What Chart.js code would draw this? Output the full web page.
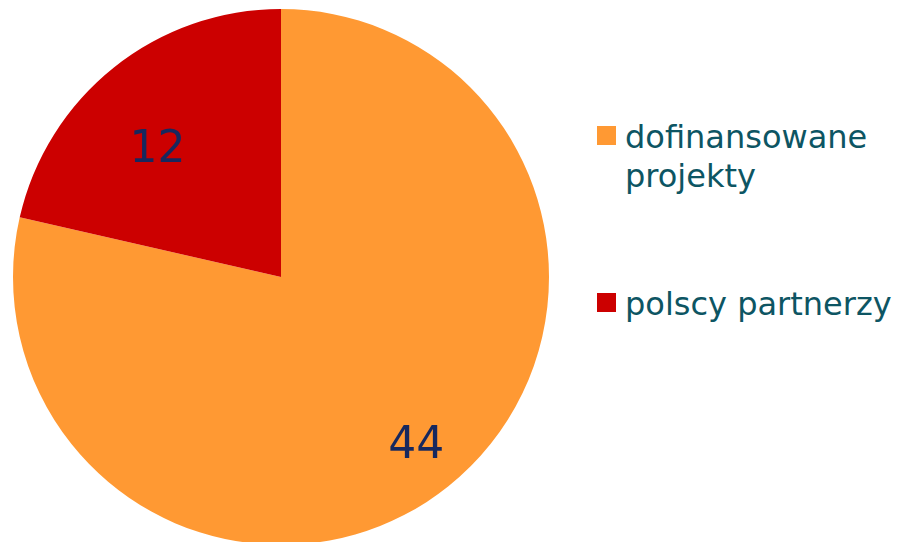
<!DOCTYPE html>
<html>
<head>
<meta charset="utf-8">
<script src="https://cdn.jsdelivr.net/npm/chart.js@4/dist/chart.umd.min.js"></script>
<style>
  html, body { margin: 0; padding: 0; background: #fff; overflow: hidden; }
  body { width: 906px; height: 542px; position: relative; font-family: "DejaVu Sans", sans-serif; }
  #pieBox { position: absolute; left: 13px; top: 9px; width: 536px; height: 536px; }
  .leg { position: absolute; left: 597px; width: 300px; color: #0d5563; font-size: 32px; line-height: 39px; }
  .leg .sw { position: absolute; left: 0; top: 8px; width: 19px; height: 19px; }
  .leg .tx { position: absolute; left: 28px; width: 282px; }
</style>
</head>
<body>
<div id="pieBox"><canvas id="pieChart"></canvas></div>
<div id="legend"></div>
<script>
var pieLabels = ["dofinansowane projekty", "polscy partnerzy"];
var pieValues = [44, 12];
var pieColors = ["#ff9933", "#cc0000"];
// how far out the value labels sit, as a share of the radius
var labelRadius = [0.81, 0.66];
var labelAngleShift = [0, -0.1];

var legendTops = [118, 285];
var legendBox = document.getElementById("legend");
pieLabels.forEach(function(lbl, i) {
    var item = document.createElement("div");
    item.className = "leg";
    item.style.top = legendTops[i] + "px";
    item.innerHTML = '<div class="sw" style="background:' + pieColors[i] + '"></div><div class="tx">' + lbl + '</div>';
    legendBox.appendChild(item);
});

var valueLabels = {
    id: "valueLabels",
    afterDatasetsDraw: function(chart) {
        var ctx = chart.ctx;
        var meta = chart.getDatasetMeta(0);
        ctx.save();
        ctx.fillStyle = "#17285e";
        ctx.font = "44px 'DejaVu Sans'";
        ctx.textAlign = "center";
        ctx.textBaseline = "middle";
        meta.data.forEach(function(arc, i) {
            var p = arc.getProps(["x", "y", "startAngle", "endAngle", "outerRadius"], true);
            var mid = (p.startAngle + p.endAngle) / 2 + labelAngleShift[i];
            var r = p.outerRadius * labelRadius[i];
            ctx.fillText(String(pieValues[i]), p.x + Math.cos(mid) * r, p.y + Math.sin(mid) * r);
        });
        ctx.restore();
    }
};

var pieCtx = document.getElementById("pieChart").getContext("2d");
var pieChart = new Chart(pieCtx, {
    type: "pie",
    data: {
        labels: pieLabels,
        datasets: [{
            data: pieValues,
            backgroundColor: pieColors,
            borderWidth: 0
        }]
    },
    options: {
        responsive: true,
        maintainAspectRatio: false,
        animation: false,
        layout: { padding: 0 },
        plugins: {
            legend: { display: false },
            tooltip: { enabled: false }
        }
    },
    plugins: [valueLabels]
});
</script>
</body>
</html>
